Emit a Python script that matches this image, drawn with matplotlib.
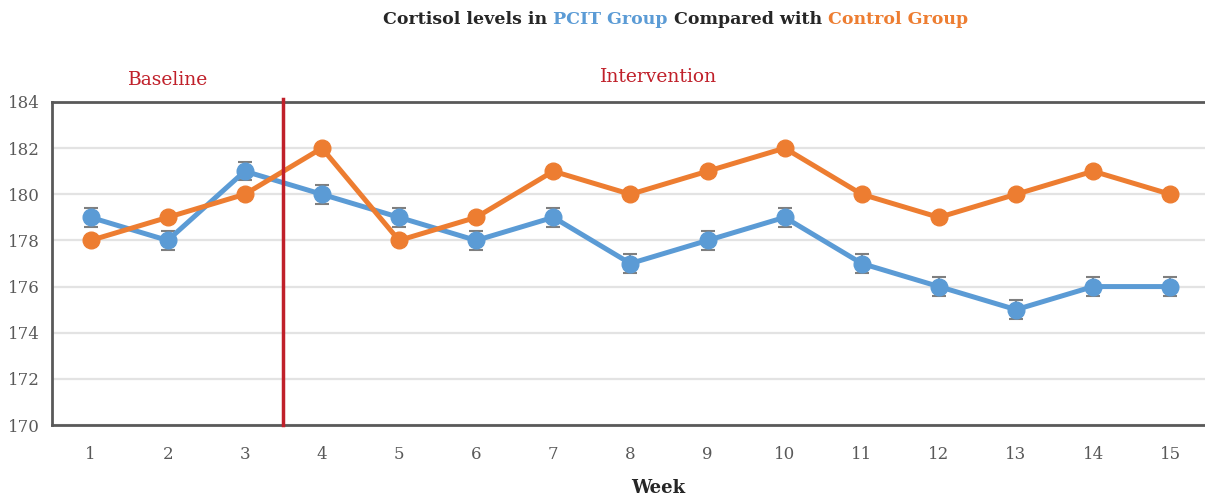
import matplotlib

matplotlib.use("Agg")
import matplotlib.pyplot as plt

weeks = list(range(1, 16))
pcit = [179, 178, 181, 180, 179, 178, 179, 177, 178, 179, 177, 176, 175, 176, 176]
control = [178, 179, 180, 182, 178, 179, 181, 180, 181, 182, 180, 179, 180, 181, 180]
pcit_err = [0.4] * 15
y_ticks = list(range(170, 185, 2))

BLUE = "#5B9BD5"
ORANGE = "#ED7D31"
RED = "#C0202A"
DARK = "#595959"

plt.rcParams["font.family"] = ["DejaVu Serif"]

fig = plt.figure(figsize=(12.05, 4.96), dpi=100)
ax = fig.add_axes([52 / 1205, 1 - 425 / 496, 1 - 52 / 1205, (425 - 102) / 496])

ax.errorbar(weeks, pcit, yerr=pcit_err, color=BLUE, lw=3.6, marker="o", ms=12,
            ecolor="#7F7F7F", elinewidth=1.5, capsize=5, capthick=1.5, zorder=3)
ax.plot(weeks, control, color=ORANGE, lw=3.6, marker="o", ms=12, zorder=4)

ax.set_xlim(0.5, 15.45)
ax.set_ylim(170, 184)
ax.set_xticks(weeks)
ax.set_yticks(y_ticks)
ax.tick_params(length=0, labelsize=12, colors=DARK)
ax.tick_params(axis="x", pad=15)
ax.tick_params(axis="y", pad=9)
ax.grid(axis="y", color="#E3E3E3", lw=1.6)
ax.set_axisbelow(True)
for side in ("left", "bottom", "top"):
    ax.spines[side].set_color(DARK)
    ax.spines[side].set_linewidth(2)
ax.spines["right"].set_visible(False)

ax.axvline(3.5, ymin=0, ymax=1.01, color=RED, lw=2.5, clip_on=False, zorder=5)

fig.text(168 / 1205, 1 - 80 / 496, "Baseline", color=RED, fontsize=13.5, ha="center", va="center")
fig.text(659 / 1205, 1 - 77 / 496, "Intervention", color=RED, fontsize=13.5, ha="center", va="center")

fig.text(658 / 1205, 1 - 488 / 496, "Week", fontsize=13, fontweight="bold", color="#262626",
         ha="center", va="center")

# multi-coloured title, pieces chained left to right
parts = [("Cortisol levels in ", "#262626"), ("PCIT Group", BLUE),
         (" Compared with ", "#262626"), ("Control Group", ORANGE)]
t = fig.text(383 / 1205, 1 - 20 / 496, parts[0][0], color=parts[0][1], fontsize=12.5,
             fontweight="bold", ha="left", va="center")
for s, c in parts[1:]:
    t = ax.annotate(s, xy=(1, 0), xycoords=t, va="bottom", ha="left", color=c,
                    fontsize=12.5, fontweight="bold", annotation_clip=False)

fig.savefig("out.png", dpi=100)
